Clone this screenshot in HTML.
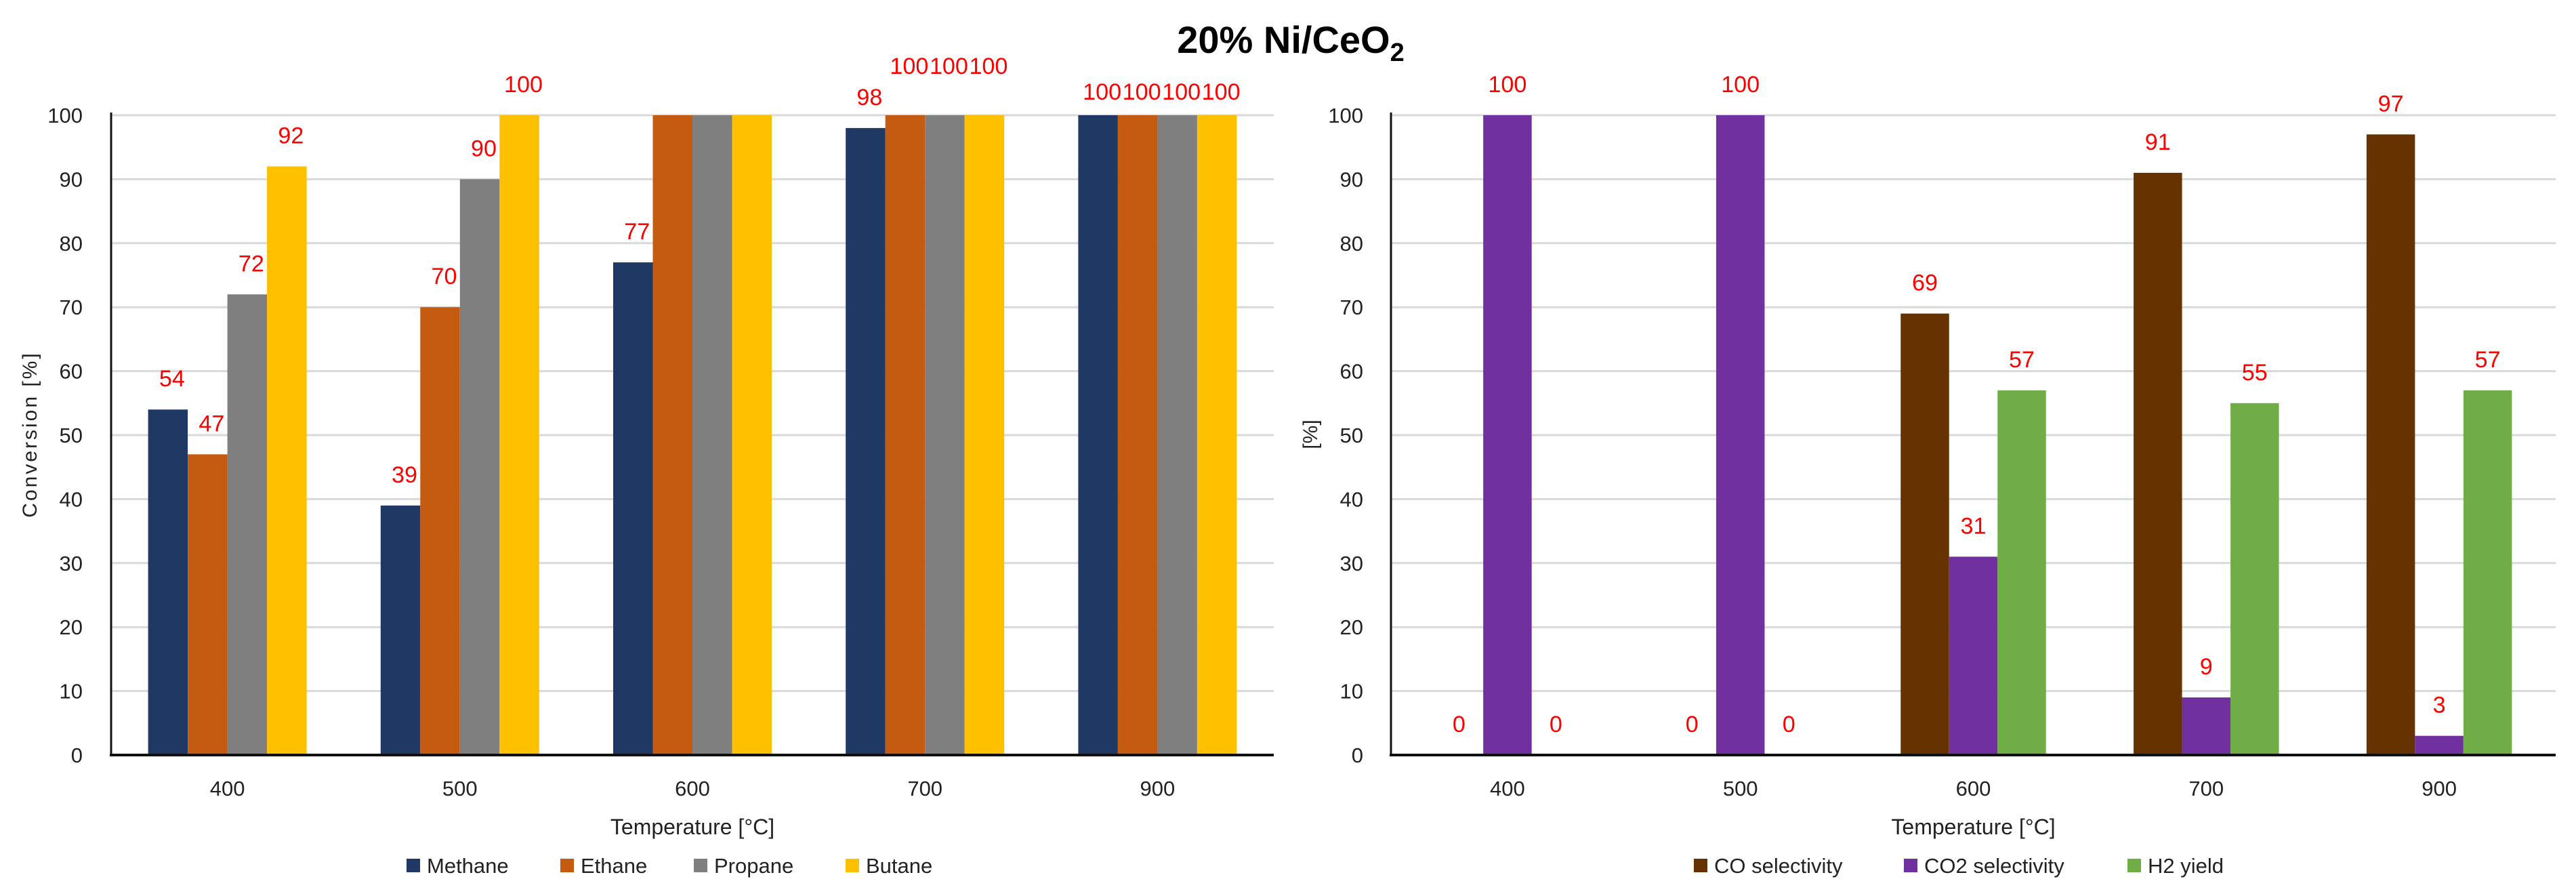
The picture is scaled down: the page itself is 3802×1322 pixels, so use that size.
<!DOCTYPE html>
<html><head><meta charset="utf-8"><style>
html,body{margin:0;padding:0;background:#fff;}
svg{display:block;font-family:"Liberation Sans",sans-serif;}
</style></head><body>
<svg id="c" width="3802" height="1322" viewBox="0 0 3802 1322" xmlns="http://www.w3.org/2000/svg">
<text x="1905" y="78" font-size="56" font-weight="bold" text-anchor="middle">20% Ni/CeO<tspan font-size="38" dy="12">2</tspan></text>
</svg>
<script>
const categories = ["400","500","600","700","900"];
const yTicks = [0,10,20,30,40,50,60,70,80,90,100];
const leftSeriesNames = ["Methane","Ethane","Propane","Butane"];
const methane = [54,39,77,98,100];
const ethane = [47,70,100,100,100];
const propane = [72,90,100,100,100];
const butane = [92,100,100,100,100];
const rightSeriesNames = ["CO selectivity","CO2 selectivity","H2 yield"];
const coSel = [0,0,69,91,97];
const co2Sel = [100,100,31,9,3];
const h2Yield = [0,0,57,55,57];
const leftLabelShown = [[1,1,1,1,1],[1,1,0,1,1],[1,1,0,1,1],[1,1,0,1,1]];
const rightLabelShown = [[1,1,1,1,1],[1,1,1,1,1],[1,1,1,1,1]];

const NS="http://www.w3.org/2000/svg";
const svg=document.getElementById('c');
function mk(tag,attrs,parent){const e=document.createElementNS(NS,tag);for(const k in attrs)e.setAttribute(k,attrs[k]);(parent||svg).appendChild(e);return e;}

function drawChart(cfg){
  const g=mk('g',{});
  
  
  const x0=cfg.x0,x1=cfg.x1,yTop=170,yBot=1114;
  const yS=v=>yBot-(v/100)*(yBot-yTop);
  const catW=(x1-x0)/categories.length;
  const xC=i=>x0+catW*(i+0.5);
  yTicks.forEach(t=>{
    if(t>0){const l=mk('line',{x1:x0,x2:x1,y1:yS(t),y2:yS(t),stroke:'#d9d9d9','stroke-width':3},g);
      
      }
    const tx=mk('text',{x:cfg.tickRight,y:yS(t)+11,'font-size':31,'text-anchor':'end',fill:'#222'},g);
    tx.textContent=t;
    
    
  });
  const n=cfg.series.length;
  cfg.series.forEach((vals,s)=>{
    vals.forEach((v,i)=>{
      const bx=xC(i)+(s-n/2)*cfg.barW;
      const r=mk('rect',{x:bx,y:yS(v),width:cfg.barW,height:yBot-yS(v),fill:cfg.colors[s]},g);
      
      
      if(cfg.shown[s][i]){
        let dy=-46;
        if(cfg.name==='conversion-chart'&&v===100&&i===3)dy=-73;
        if(cfg.name==='conversion-chart'&&v===100&&i===4)dy=-35;
        const str=String(v);
        const lt=mk('text',{x:bx+cfg.barW/2+(cfg.labelShift||0),y:yS(v)+dy+12,'font-size':34,'text-anchor':'middle',fill:'#ff0000',textLength:str.length*19,lengthAdjust:'spacingAndGlyphs'},g);
        lt.textContent=str;
        
        
      }
    });
  });
  const ya=mk('line',{x1:x0,x2:x0,y1:yTop-4,y2:yBot+2,stroke:'#111','stroke-width':3},g);
  
  
  const xa=mk('line',{x1:x0-2,x2:x1,y1:yBot,y2:yBot,stroke:'#111','stroke-width':4},g);
  
  
  categories.forEach((c,i)=>{
    const t=mk('text',{x:xC(i),y:1174,'font-size':31,'text-anchor':'middle',fill:'#222'},g);
    t.textContent=c;
    
    
  });
  const xt=mk('text',{x:(x0+x1)/2,y:1231,'font-size':32,'text-anchor':'middle',fill:'#222'},g);
  xt.textContent='Temperature  [°C]';
  
  
  const yt=mk('text',{x:0,y:0,'font-size':30,'text-anchor':'middle',fill:'#222','letter-spacing':cfg.ySpacing,transform:'translate('+cfg.yTitleX+',641) rotate(-90)'},g);
  yt.textContent=cfg.yTitle;
  
  
  cfg.legendNames.forEach((nm,s)=>{
    const lx=cfg.legendX[s];
    const m=mk('rect',{x:lx,y:1267,width:20,height:20,fill:cfg.colors[s]},g);
    
    
    const t=mk('text',{x:lx+30,y:1288,'font-size':31,fill:'#222'},g);
    t.textContent=nm;
    
    
  });
}

drawChart({name:'conversion-chart',x0:164,x1:1880,tickRight:122,barW:58.5,labelShift:6,
  series:[methane,ethane,propane,butane],keys:['methane','ethane','propane','butane'],
  colors:['#203864','#c55a11','#7f7f7f','#ffc000'],shown:leftLabelShown,
  legendNames:leftSeriesNames,legendX:[600,827,1024,1248],
  yTitle:'Conversion [%]',yTitleX:54,ySpacing:3});
drawChart({name:'selectivity-chart',x0:2053,x1:3772,tickRight:2012,barW:71.5,
  series:[coSel,co2Sel,h2Yield],keys:['co-selectivity','co2-selectivity','h2-yield'],
  colors:['#663300','#7030a0','#70ad47'],shown:rightLabelShown,
  legendNames:rightSeriesNames,legendX:[2500,2810,3140],
  yTitle:'[%]',yTitleX:1944,ySpacing:0});
</script>
</body></html>
